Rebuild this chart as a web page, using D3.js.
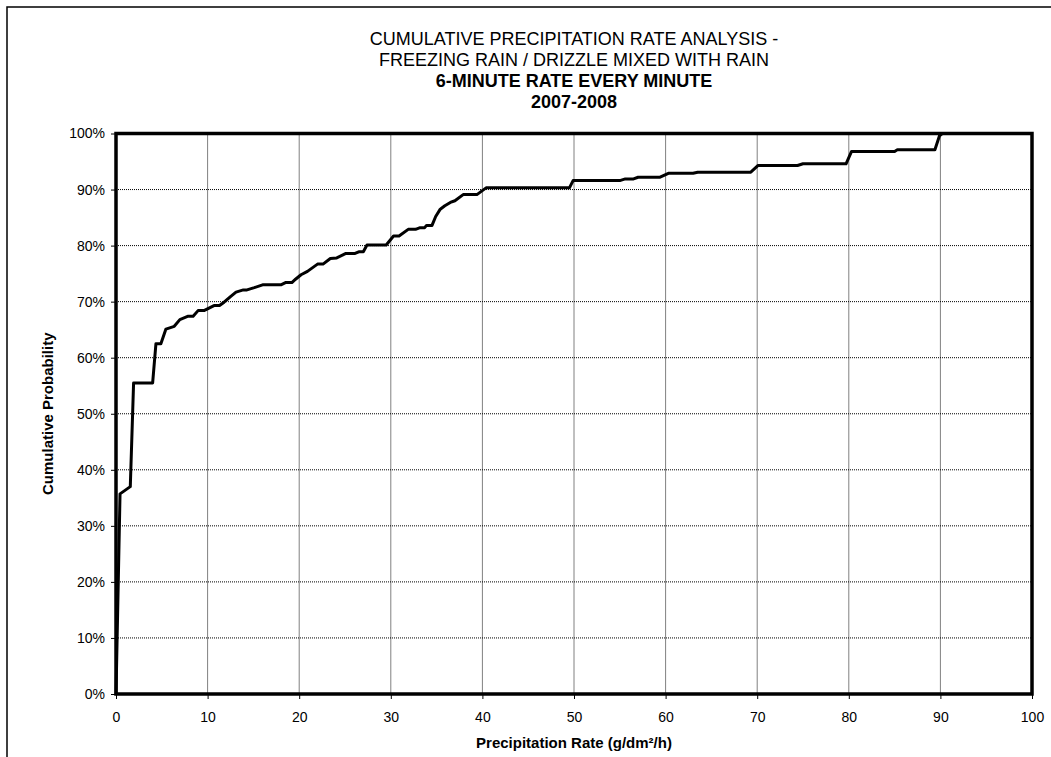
<!DOCTYPE html>
<html>
<head>
<meta charset="utf-8">
<script src="https://cdn.jsdelivr.net/npm/d3@7"></script>
<style>
  body { margin: 0; background: #fff; }
  svg { display: block; font-family: "Liberation Sans", Arial, sans-serif; }
</style>
</head>
<body>
<svg id="chart" width="1051" height="757"></svg>
<script>
// precipitation rate (g/dm2/h) vs cumulative probability (%)
var rate = [0, 0.44, 1.56, 1.92, 4.0, 4.36, 4.9, 5.45, 6.36, 6.97, 7.88, 8.42, 8.96, 9.6,
    10.7, 11.3, 11.8, 12.5, 13.1, 13.9, 14.3, 15.1, 16.0, 18.0, 18.5, 19.2, 19.6, 20.2,
    20.9, 22.0, 22.6, 23.4, 24.1, 25.1, 26.1, 26.5, 27.0, 27.4, 29.5, 30.3, 30.9, 31.9,
    32.7, 33.2, 33.7, 33.9, 34.5, 34.9, 35.4, 35.9, 36.5, 37.0, 37.9, 39.4, 40.4, 49.5,
    49.9, 55.0, 55.6, 56.5, 57.0, 59.4, 60.3, 63.0, 63.5, 69.3, 70.1, 74.4, 75.0, 79.7,
    80.3, 85.0, 85.3, 89.4, 89.9, 90.2];
var prob = [0, 35.7, 37.0, 55.5, 55.5, 62.5, 62.5, 65.1, 65.6, 66.8, 67.4, 67.4, 68.4, 68.4,
    69.3, 69.3, 69.9, 70.9, 71.7, 72.1, 72.1, 72.5, 73.0, 73.0, 73.4, 73.4, 74.0, 74.8,
    75.4, 76.7, 76.7, 77.7, 77.8, 78.6, 78.6, 78.9, 78.9, 80.1, 80.1, 81.7, 81.7, 82.9,
    82.9, 83.2, 83.2, 83.6, 83.6, 85.2, 86.5, 87.1, 87.7, 88.0, 89.1, 89.1, 90.3, 90.3,
    91.6, 91.6, 91.9, 91.9, 92.2, 92.2, 92.9, 92.9, 93.1, 93.1, 94.3, 94.3, 94.6, 94.6,
    96.8, 96.8, 97.1, 97.1, 99.6, 100];

var xTicks = [0, 10, 20, 30, 40, 50, 60, 70, 80, 90, 100];
var yTicks = [0, 10, 20, 30, 40, 50, 60, 70, 80, 90, 100];
var titleLines = ["CUMULATIVE PRECIPITATION RATE ANALYSIS -",
    "FREEZING RAIN / DRIZZLE MIXED WITH RAIN",
    "6-MINUTE RATE EVERY MINUTE",
    "2007-2008"];

function drawChart(){
    var data = rate.map(function(d, i){ return {rate: d, prob: prob[i]}; });

    var svg = d3.select("#chart");

    // outer chart frame (cropped on the right and bottom)
    svg.append("rect")
        .attr("x", 7).attr("y", 7)
        .attr("width", 1100).attr("height", 800)
        .attr("fill", "none")
        .attr("stroke", "#000")
        .attr("stroke-width", 1.5);

    var pLeft = 116, pRight = 1032, pTop = 133.5, pBottom = 694;

    var xScale = d3.scaleLinear().domain([0, 100]).range([pLeft, pRight]);
    var yScale = d3.scaleLinear().domain([0, 100]).range([pBottom, pTop]);

    // grid
    var grid = svg.append("g");
    grid.selectAll("line.v")
        .data(xTicks.slice(1, -1))
        .enter().append("line")
        .attr("class", "v")
        .attr("x1", function(d){ return xScale(d); })
        .attr("x2", function(d){ return xScale(d); })
        .attr("y1", pTop).attr("y2", pBottom)
        .attr("stroke", "#000")
        .attr("stroke-width", 1)
        .attr("stroke-dasharray", "1,1");
    grid.selectAll("line.h")
        .data(yTicks.slice(1, -1))
        .enter().append("line")
        .attr("class", "h")
        .attr("y1", function(d){ return yScale(d); })
        .attr("y2", function(d){ return yScale(d); })
        .attr("x1", pLeft).attr("x2", pRight)
        .attr("stroke", "#000")
        .attr("stroke-width", 1)
        .attr("stroke-dasharray", "1,1");

    // axes
    var xAxis = svg.append("g")
        .attr("transform", "translate(0," + pBottom + ")")
        .call(d3.axisBottom(xScale).tickValues(xTicks).tickSize(5).tickPadding(13));
    var yAxis = svg.append("g")
        .attr("transform", "translate(" + pLeft + ",0)")
        .call(d3.axisLeft(yScale).tickValues(yTicks).tickSize(5).tickPadding(6)
            .tickFormat(function(d){ return d + "%"; }));

    [xAxis, yAxis].forEach(function(a){
        a.select(".domain").remove();
        a.selectAll("line").attr("stroke", "#000");
        a.selectAll("text")
            .attr("fill", "#000")
            .style("font-size", "14px")
            .style("font-family", "'Liberation Sans', Arial, sans-serif");
    });

    // the curve
    var line = d3.line()
        .x(function(d){ return xScale(d.rate); })
        .y(function(d){ return yScale(d.prob); });

    svg.append("path")
        .datum(data)
        .attr("fill", "none")
        .attr("stroke", "#000")
        .attr("stroke-width", 3)
        .attr("stroke-linejoin", "round")
        .attr("d", line);

    // plot frame
    svg.append("rect")
        .attr("x", pLeft).attr("y", pTop)
        .attr("width", pRight - pLeft).attr("height", pBottom - pTop)
        .attr("fill", "none")
        .attr("stroke", "#000")
        .attr("stroke-width", 3.5);

    // titles
    svg.selectAll("text.title")
        .data(titleLines)
        .enter().append("text")
        .attr("class", "title")
        .attr("x", 574)
        .attr("y", function(d, i){ return 45 + i * 21; })
        .attr("text-anchor", "middle")
        .attr("font-size", "18px")
        .attr("font-weight", function(d, i){ return i >= 2 ? "bold" : "normal"; })
        .attr("fill", "#000")
        .text(function(d){ return d; });

    svg.append("text")
        .attr("x", (pLeft + pRight) / 2)
        .attr("y", 748)
        .attr("text-anchor", "middle")
        .attr("font-size", "15px")
        .attr("font-weight", "bold")
        .text("Precipitation Rate (g/dm²/h)");

    svg.append("text")
        .attr("transform", "translate(53," + ((pTop + pBottom) / 2) + ") rotate(-90)")
        .attr("text-anchor", "middle")
        .attr("font-size", "15px")
        .attr("font-weight", "bold")
        .text("Cumulative Probability");
}

drawChart();
</script>
</body>
</html>
